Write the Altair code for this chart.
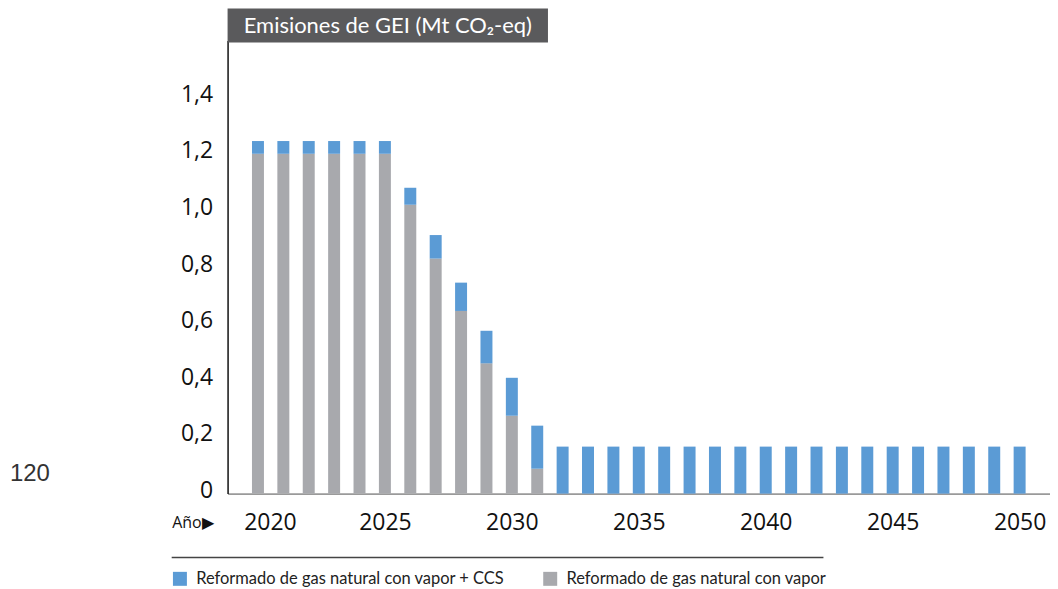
import altair as alt
import pandas as pd

years = list(range(2020, 2051))
gray_vals = [1.20, 1.20, 1.20, 1.20, 1.20, 1.20, 1.02, 0.83, 0.645, 0.46, 0.275, 0.088] + [0.0] * 19
blue_vals = [0.045, 0.045, 0.045, 0.045, 0.045, 0.045, 0.06, 0.083, 0.10, 0.115, 0.134, 0.152] + [0.166] * 19

s_blue = "Reformado de gas natural con vapor + CCS"
s_gray = "Reformado de gas natural con vapor"
x_ticks = [2020, 2025, 2030, 2035, 2040, 2045, 2050]
y_ticks = [0, 0.2, 0.4, 0.6, 0.8, 1.0, 1.2, 1.4]
title_text = "Emisiones de GEI (Mt CO₂-eq)"
stray_text = "120"

rows = []
for y, g, b in zip(years, gray_vals, blue_vals):
    rows.append({"year": y, "serie": s_gray, "valor": g, "ord": 0})
    rows.append({"year": y, "serie": s_blue, "valor": b, "ord": 1})
df = pd.DataFrame(rows)

FONT = "Open Sans"

bars = alt.Chart(df).mark_bar(size=12).encode(
    x=alt.X("year:Q", scale=alt.Scale(domain=[2019, 2051], nice=False, zero=False),
            axis=alt.Axis(values=x_ticks, format="d", title="Año▶", grid=False, ticks=False, tickSize=0,
                          labelFontSize=23, labelFont=FONT, labelColor="#111", labelPadding=29,
                          labelBaseline="middle", domainColor="#9a9a9a", domainWidth=2,
                          labelOffset=alt.ExprRef(expr="datum.value == 2020 ? 12 : 0"),
                          titleFont=FONT, titleFontSize=16, titleFontWeight="normal", titleColor="#111",
                          titleX=-56, titleY=29, titleAlign="left", titleBaseline="middle")),
    y=alt.Y("valor:Q", stack="zero", scale=alt.Scale(domain=[0, 1.6], nice=False),
            axis=alt.Axis(values=y_ticks, title=None, grid=False, ticks=False, tickSize=0,
                          labelExpr="datum.value == 0 ? '0' : replace(format(datum.value, '.1f'), '.', ',')",
                          labelFontSize=23, labelFont=FONT, labelColor="#111", labelPadding=15,
                          labelOffset=-3, domainColor="#111", domainWidth=1.5)),
    color=alt.Color("serie:N", scale=alt.Scale(domain=[s_blue, s_gray], range=["#5b9bd5", "#a8a9ad"]),
                    legend=alt.Legend(title=None, orient="none", legendX=-56, legendY=531,
                                      direction="horizontal", columns=2, symbolType="square",
                                      symbolSize=196, symbolStrokeWidth=0, labelFont="Lato",
                                      labelFontSize=16.5, labelColor="#222", labelLimit=500,
                                      labelOffset=8, columnPadding=37)),
    order=alt.Order("ord:Q"),
)

one = pd.DataFrame({"t": [title_text], "s": [stray_text]})

title_box = alt.Chart(one).mark_rect(color="#5a5a5c").encode(
    x=alt.value(0), x2=alt.value(321), y=alt.value(-32), y2=alt.value(2))
title_lbl = alt.Chart(one).mark_text(color="white", font="Lato", fontSize=22, align="center",
                                     baseline="middle").encode(
    x=alt.value(160.5), y=alt.value(-15), text="t:N")
stray = alt.Chart(one).mark_text(color="#333", font="Liberation Sans", fontSize=24, align="left",
                                 baseline="middle").encode(
    x=alt.value(-218), y=alt.value(434), text="s:N")
sep = alt.Chart(one).mark_rule(color="#444", strokeWidth=1.5).encode(
    x=alt.value(-56), x2=alt.value(597), y=alt.value(518))

chart = alt.layer(bars, title_box, title_lbl, stray, sep).properties(
    width=824, height=454,
    padding={"left": 2, "top": 0, "right": 0, "bottom": 0},
).configure_view(stroke=None)

chart.save("out.html", embed_options={"renderer": "svg", "actions": False})
